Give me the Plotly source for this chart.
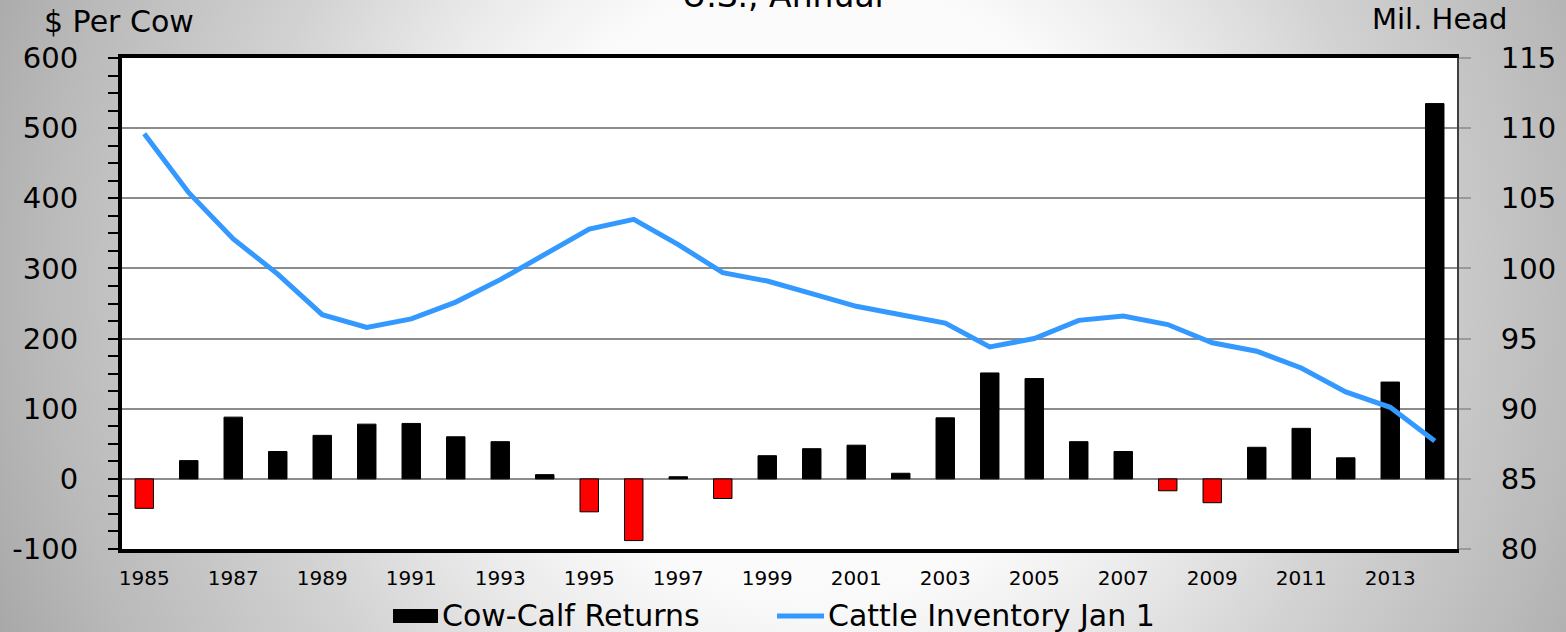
import base64
import plotly.graph_objects as go

# ---------------- data ----------------
years = list(range(1985, 2015))
cow_calf_returns = [-42, 26, 88, 39, 62, 78, 79, 60, 53, 6,
                    -47, -88, 3, -28, 33, 43, 48, 8, 87, 151,
                    143, 53, 39, -17, -34, 45, 72, 30, 138, 535]
cattle_inventory = [109.6, 105.4, 102.1, 99.6, 96.7, 95.8, 96.4, 97.6, 99.2, 101.0,
                    102.8, 103.5, 101.7, 99.7, 99.1, 98.2, 97.3, 96.7, 96.1, 94.4,
                    95.0, 96.3, 96.6, 96.0, 94.7, 94.1, 92.9, 91.2, 90.1, 87.7]
left_tick_values = [-100, 0, 100, 200, 300, 400, 500, 600]
left_tick_labels = ["-100", "0", "100", "200", "300", "400", "500", "600"]
left_range = [-100, 600]
right_range = [80, 115]
bar_name = "Cow-Calf Returns"
line_name = "Cattle Inventory Jan 1"

# ---------------- geometry ----------------
W, H = 1566, 632
ML, MR, MT, MB = 122, 109, 58, 83
PW, PH = W - ML - MR, H - MT - MB

def px_x(p):
    return (p - ML) / PW

def px_y(p):
    return (MT + PH - p) / PH

FONT = "DejaVu Sans"
BLUE = "#3399ff"

# background radial gradient (svg image)
svg = f'''<svg xmlns="http://www.w3.org/2000/svg" width="{W}" height="{H}" viewBox="0 0 {W} {H}">
<defs><radialGradient id="g" gradientUnits="userSpaceOnUse" cx="{W*0.52}" cy="{H*0.45}" r="900">
<stop offset="0" stop-color="#ffffff"/>
<stop offset="0.35" stop-color="#fafafa"/>
<stop offset="0.47" stop-color="#ebebeb"/>
<stop offset="0.64" stop-color="#d2d2d2"/>
<stop offset="0.86" stop-color="#b9b9b9"/>
<stop offset="1" stop-color="#a6a6a6"/>
</radialGradient></defs>
<rect width="{W}" height="{H}" fill="url(#g)"/></svg>'''
bg_src = "data:image/svg+xml;base64," + base64.b64encode(svg.encode()).decode()

bar_colors = ["#ff0000" if v < 0 else "#000000" for v in cow_calf_returns]

fig = go.Figure()
fig.add_trace(go.Bar(
    x=years, y=cow_calf_returns, name=bar_name,
    marker=dict(color=bar_colors, line=dict(color="black", width=1)),
    yaxis="y", showlegend=False))
fig.add_trace(go.Scatter(
    x=years, y=cattle_inventory, name=line_name, mode="lines",
    line=dict(color=BLUE, width=5), yaxis="y2", showlegend=False))

zero_pos = (0 - left_range[0]) / (left_range[1] - left_range[0])

fig.update_layout(
    width=W, height=H,
    margin=dict(l=ML, r=MR, t=MT, b=MB, autoexpand=False),
    paper_bgcolor="#c0c0c0",
    plot_bgcolor="white",
    bargap=0.585,
    font=dict(family=FONT, color="black"),
    xaxis=dict(range=[years[0] - 0.5, years[-1] + 0.5], tickmode="linear",
               tick0=years[0], dtick=2, showgrid=False, zeroline=False,
               showline=True, linecolor="black", linewidth=4, mirror=True,
               ticks="", ticklabelstandoff=8, automargin=False,
               tickfont=dict(size=20, family=FONT)),
    xaxis2=dict(overlaying="x", anchor="free", position=zero_pos,
                range=[years[0] - 0.5, years[-1] + 0.5], tickmode="linear",
                tick0=years[0] + 0.5, dtick=1, showticklabels=False,
                showgrid=False, zeroline=False, showline=True,
                linecolor="#7f7f7f", linewidth=2, ticks="outside", ticklen=6,
                tickwidth=2, tickcolor="#202020"),
    yaxis=dict(range=left_range, tickmode="array", tickvals=left_tick_values,
               ticktext=left_tick_labels, showgrid=True, gridcolor="#8c8c8c",
               gridwidth=1.5, zeroline=False, showline=True, linecolor="black",
               linewidth=4, ticks="outside", ticklen=10, tickwidth=2,
               tickcolor="black", ticklabelstandoff=24, automargin=False,
               minor=dict(dtick=25, ticks="outside", ticklen=10, tickwidth=2,
                          tickcolor="black", showgrid=False),
               tickfont=dict(size=29, family=FONT)),
    yaxis2=dict(range=right_range, dtick=5, overlaying="y", side="right",
                showgrid=False, zeroline=False, showline=True,
                linecolor="#404040", linewidth=2, ticks="outside", ticklen=12,
                tickwidth=2, tickcolor="#9a9a9a", ticklabelstandoff=24,
                automargin=False, tickfont=dict(size=29, family=FONT)),
    images=[dict(source=bg_src, xref="paper", yref="paper",
                 x=px_x(0), y=px_y(0), sizex=W / PW, sizey=H / PH,
                 sizing="stretch", xanchor="left", yanchor="top", layer="below")],
    shapes=[
        dict(type="rect", xref="paper", yref="paper", x0=0, x1=1, y0=0, y1=1,
             fillcolor="white", line=dict(width=0), layer="below"),
        # legend swatches
        dict(type="rect", xref="paper", yref="paper",
             x0=px_x(393), x1=px_x(438), y0=px_y(623), y1=px_y(609),
             fillcolor="black", line=dict(width=0)),
        dict(type="line", xref="paper", yref="paper",
             x0=px_x(777), x1=px_x(824), y0=px_y(616), y1=px_y(616),
             line=dict(color=BLUE, width=5)),
    ],
    annotations=[
        dict(text="U.S., Annual", xref="paper", yref="paper", x=px_x(783),
             y=px_y(17), xanchor="center", yanchor="bottom", showarrow=False,
             font=dict(size=33, family=FONT)),
        dict(text="$ Per Cow", xref="paper", yref="paper", x=px_x(42),
             y=px_y(22), xanchor="left", yanchor="middle", showarrow=False,
             font=dict(size=30, family=FONT)),
        dict(text="Mil. Head", xref="paper", yref="paper", x=px_x(1509),
             y=px_y(19), xanchor="right", yanchor="middle", showarrow=False,
             font=dict(size=29, family=FONT)),
        dict(text=bar_name, xref="paper", yref="paper", x=px_x(440),
             y=px_y(615), xanchor="left", yanchor="middle", showarrow=False,
             font=dict(size=30, family=FONT)),
        dict(text=line_name, xref="paper", yref="paper", x=px_x(826),
             y=px_y(615), xanchor="left", yanchor="middle", showarrow=False,
             font=dict(size=30, family=FONT)),
    ],
)

fig.write_html(
    "out.html",
    config={"displayModeBar": False},
    post_script="document.body.style.margin='0';document.body.style.overflow='hidden';",
)
